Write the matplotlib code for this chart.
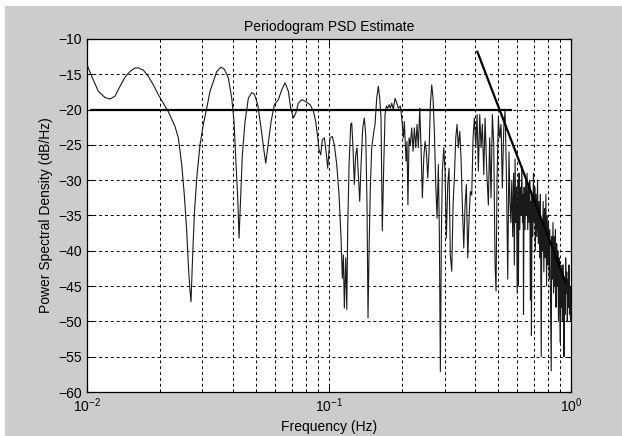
import matplotlib
matplotlib.use("Agg")
import matplotlib.pyplot as plt
from matplotlib.patches import Rectangle
from matplotlib.ticker import LogLocator, FixedLocator, NullFormatter

plt.rcParams["font.family"] = ["Liberation Sans", "DejaVu Sans"]
plt.rcParams["mathtext.default"] = "regular"

# ---------------------------------------------------------
# data (Hz, dB/Hz)
# ---------------------------------------------------------
freq_hz = [
    0.01000, 0.01007, 0.01046, 0.01113, 0.01187, 0.01245, 0.01305, 0.01369,
    0.01436, 0.01505, 0.01579, 0.01630, 0.01708, 0.01792, 0.01879, 0.01971,
    0.02067, 0.02168, 0.02310, 0.02384, 0.02462, 0.02524, 0.02582, 0.02622,
    0.02664, 0.02690, 0.02723, 0.02775, 0.02840, 0.02930, 0.03024, 0.03123,
    0.03223, 0.03326, 0.03436, 0.03580, 0.03694, 0.03837, 0.03963, 0.04050,
    0.04128, 0.04195, 0.04248, 0.04301, 0.04383, 0.04497, 0.04640, 0.04793,
    0.04913, 0.05075, 0.05236, 0.05388, 0.05476, 0.05582, 0.05761, 0.05943,
    0.06173, 0.06376, 0.06580, 0.06790, 0.06947, 0.07122, 0.07286, 0.07467,
    0.07713, 0.07961, 0.08347, 0.08613, 0.08810, 0.08981, 0.09093, 0.09239,
    0.09381, 0.09562, 0.09719, 0.09876, 0.1009, 0.1031, 0.1052, 0.1076,
    0.1100, 0.1121, 0.1135, 0.1146, 0.1157, 0.1172, 0.1184, 0.1195,
    0.1210, 0.1229, 0.1241, 0.1256, 0.1272, 0.1289, 0.1305, 0.1321,
    0.1339, 0.1356, 0.1378, 0.1399, 0.1418, 0.1435, 0.1449, 0.1463,
    0.1481, 0.1501, 0.1524, 0.1549, 0.1574, 0.1598, 0.1620, 0.1640,
    0.1660, 0.1683, 0.1704, 0.1725, 0.1748, 0.1770, 0.1792, 0.1816,
    0.1844, 0.1874, 0.1905, 0.1934, 0.1971, 0.1997, 0.2028, 0.2047,
    0.2081, 0.2100, 0.2118, 0.2141, 0.2168, 0.2196, 0.2224, 0.2252,
    0.2282, 0.2310, 0.2339, 0.2370, 0.2400, 0.2430, 0.2462, 0.2493,
    0.2524, 0.2558, 0.2590, 0.2622, 0.2657, 0.2690, 0.2724, 0.2760,
    0.2795, 0.2829, 0.2856, 0.2884, 0.2911, 0.2939, 0.2979, 0.3015,
    0.3053, 0.3093, 0.3132, 0.3170, 0.3214, 0.3254, 0.3294, 0.3339,
    0.3380, 0.3422, 0.3468, 0.3511, 0.3555, 0.3603, 0.3648, 0.3693,
    0.3742, 0.3789, 0.3836, 0.3887, 0.3936, 0.3985, 0.4039, 0.4089,
    0.4140, 0.4195, 0.4248, 0.4300, 0.4358, 0.4412, 0.4484, 0.4553,
    0.4609, 0.4670, 0.4729, 0.4793, 0.4853, 0.4899, 0.4946, 0.5007,
    0.5075, 0.5137, 0.5201, 0.5271, 0.5337, 0.5403, 0.5475,
    0.554, 0.559, 0.564, 0.569, 0.574, 0.579, 0.583, 0.587,
    0.591, 0.595, 0.599, 0.603, 0.606, 0.610, 0.614, 0.618,
    0.622, 0.626, 0.630, 0.634, 0.636, 0.640, 0.645, 0.650,
    0.654, 0.658, 0.662, 0.667, 0.671, 0.675, 0.679, 0.683,
    0.686, 0.690, 0.695, 0.699, 0.704, 0.708, 0.712, 0.717,
    0.722, 0.727, 0.732, 0.737, 0.742, 0.747, 0.750, 0.753,
    0.757, 0.762, 0.767, 0.772, 0.777, 0.782, 0.787, 0.792,
    0.797, 0.802, 0.807, 0.812, 0.817, 0.822, 0.828, 0.832,
    0.837, 0.842, 0.847, 0.852, 0.857, 0.862, 0.867, 0.872,
    0.877, 0.882, 0.887, 0.892, 0.897, 0.903, 0.907, 0.912,
    0.917, 0.921, 0.925, 0.930, 0.935, 0.940, 0.945, 0.950,
    0.955, 0.960, 0.965, 0.970, 0.975, 0.980, 0.985, 0.990,
    0.995, 1.000,
]

psd_db = [
    -13.7, -13.9, -15.3, -17.4, -18.3, -18.5, -18.1, -16.7,
    -15.4, -14.6, -14.1, -14.1, -14.4, -15.3, -16.5, -17.9,
    -19.1, -20.3, -22.4, -24.0, -27.8, -32.1, -37.2, -42.0,
    -45.7, -47.2, -42.0, -34.9, -29.7, -25.0, -22.1, -19.8,
    -17.4, -16.0, -14.6, -14.0, -14.3, -15.5, -18.4, -21.7,
    -27.8, -32.5, -38.2, -33.5, -26.4, -21.7, -18.4, -17.6,
    -17.8, -19.3, -22.6, -25.9, -27.6, -25.4, -21.7, -19.3,
    -18.6, -17.2, -16.2, -17.4, -19.8, -21.2, -20.5, -19.1,
    -18.6, -18.8, -19.3, -20.2, -21.7, -24.0, -25.7, -26.4,
    -24.3, -24.0, -25.9, -28.3, -24.0, -23.8, -25.0, -27.8,
    -32.1, -38.2, -43.9, -40.6, -48.1, -41.0, -48.3, -36.3,
    -27.8, -22.1, -21.9, -25.4, -30.6, -26.4, -25.4, -29.2,
    -33.0, -27.8, -22.6, -21.2, -23.6, -33.5, -49.5, -40.1,
    -31.1, -25.4, -23.6, -22.1, -18.4, -16.7, -18.4, -21.2,
    -37.2, -27.8, -20.7, -19.5, -19.8, -19.3, -19.8, -19.1,
    -20.0, -18.4, -19.1, -19.8, -19.5, -21.2, -24.0, -21.7,
    -27.3, -24.5, -33.5, -24.0, -25.0, -22.6, -25.9, -22.6,
    -25.4, -22.1, -25.4, -19.8, -25.4, -32.5, -26.9, -24.5,
    -25.9, -29.7, -25.9, -19.3, -16.5, -18.4, -23.1, -30.6,
    -35.4, -27.8, -37.2, -57.1, -38.2, -28.7, -25.4, -28.7,
    -38.2, -30.6, -28.3, -40.6, -42.9, -33.5, -29.7, -24.0,
    -22.1, -25.4, -23.1, -26.9, -33.5, -39.6, -33.5, -30.6,
    -41.0, -35.4, -31.6, -32.1, -24.0, -21.2, -25.4, -20.7,
    -28.7, -20.7, -25.4, -22.1, -29.2, -21.2, -28.7, -33.5,
    -24.0, -32.5, -20.7, -25.0, -42.0, -45.7, -29.7, -21.2,
    -24.0, -22.1, -31.1, -22.6, -20.2, -28.7, -44.0,
    -26, -33, -36, -30, -38, -29, -42, -27,
    -36, -31, -46, -30, -45, -29, -37, -31,
    -35, -28, -36, -32, -49, -31, -37, -30,
    -35, -29, -37, -31, -36, -30, -47, -33,
    -52, -32, -38, -29, -36, -31, -40, -32,
    -38, -30, -39, -33, -41, -32, -44, -55,
    -36, -40, -33, -43, -34, -41, -32, -45,
    -35, -42, -36, -44, -37, -46, -57, -38,
    -44, -36, -46, -38, -45, -37, -48, -39,
    -45, -40, -50, -41, -47, -53, -42, -48,
    -43, -50, -42, -47, -55, -44, -49, -41,
    -46, -43, -50, -44, -48, -42, -49, -45,
    -50, -47,
]

# reference lines drawn over the spectrum
flat_line_hz = [0.0104, 0.565]
flat_line_db = [-20.0, -20.0]
slope_line_hz = [0.41, 0.95]
slope_line_db = [-11.8, -44.5]

BG_GRAY = "#cccccc"


def main() -> None:
    fig = plt.figure(figsize=(6.22, 4.36), dpi=100, facecolor="white")
    fig.patches.append(
        Rectangle((5 / 622, 0), 1, 1 - 6 / 436, transform=fig.transFigure,
                  facecolor=BG_GRAY, edgecolor="none", zorder=-10)
    )

    ax = fig.add_axes([0.1399, 0.1009, 0.7782, 0.8097])
    ax.set_facecolor("white")

    ax.plot(freq_hz, psd_db, color="#1a1a1a", lw=0.8, zorder=3)
    ax.plot(flat_line_hz, flat_line_db, color="black", lw=1.6, zorder=4)
    ax.plot(slope_line_hz, slope_line_db, color="black", lw=1.6, zorder=4)

    ax.set_xscale("log")
    ax.set_xlim(0.01, 1.0)
    ax.set_ylim(-60, -10)
    ax.xaxis.set_major_locator(FixedLocator([0.01, 0.1, 1.0]))
    ax.set_xticklabels(["$10^{-2}$", "$10^{-1}$", "$10^{0}$"])
    ax.xaxis.set_minor_locator(LogLocator(base=10, subs=range(2, 10)))
    ax.xaxis.set_minor_formatter(NullFormatter())
    ax.set_yticks(range(-60, -9, 5))

    grid_style = dict(color="black", lw=0.7, linestyle=(0, (3, 3)))
    ax.grid(True, which="major", axis="both", **grid_style)
    ax.grid(True, which="minor", axis="x", **grid_style)
    ax.set_axisbelow(True)

    ax.tick_params(which="both", direction="in", top=True, right=True,
                   labelsize=10, colors="black")
    ax.tick_params(which="major", length=4)
    ax.tick_params(which="minor", length=2)
    for spine in ax.spines.values():
        spine.set_linewidth(0.9)

    ax.set_title("Periodogram PSD Estimate", fontsize=10, pad=6)
    ax.set_xlabel("Frequency (Hz)", fontsize=10, labelpad=3)
    ax.set_ylabel("Power Spectral Density (dB/Hz)", fontsize=10, labelpad=4)

    fig.savefig("out.png", dpi=100, facecolor=fig.get_facecolor())
    plt.close(fig)


if __name__ == "__main__":
    main()
